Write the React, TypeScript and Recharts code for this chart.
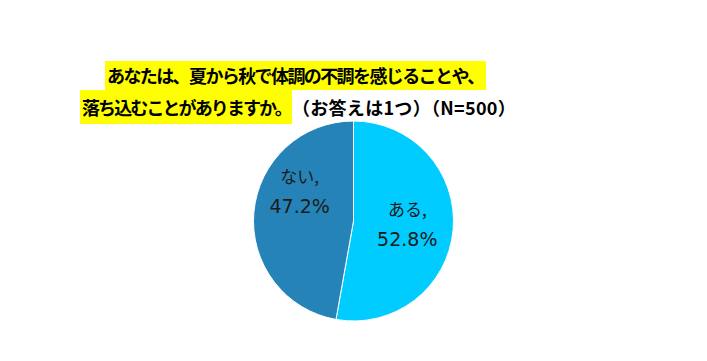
import { PieChart, Pie, Cell } from 'recharts';

const categories = ['ある', 'ない'];
const shares = [52.8, 47.2];
const sliceColors = ['#00CCFF', '#2683B8'];

const titleLine1 = 'あなたは、夏から秋で体調の不調を感じることや、';
const titleLine2 = '落ち込むことがありますか。';
const titleNote = '（お答えは1つ）（N=500）';

const chartData = categories.map((name, i) => ({ name, value: shares[i] }));

const RADIAN = Math.PI / 180;

const renderLabel = (props: any) => {
  const { cx, cy, midAngle, outerRadius, index, payload } = props;
  const r = outerRadius * 0.54;
  const x = cx + r * Math.cos(-midAngle * RADIAN);
  let y = cy + r * Math.sin(-midAngle * RADIAN);
  // Excel nudges the left label upward
  if (index === 1) y -= 23;
  const name = payload?.name ?? categories[index];
  const val = payload?.value ?? shares[index];
  return (
    <text x={x} y={y} textAnchor="middle" fill="#1a1a1a">
      <tspan x={x} dy={-10} fontSize={17} fontFamily="'Noto Sans CJK JP', sans-serif">
        {name},
      </tspan>
      <tspan x={x} dy={30} fontSize={19} fontFamily="'DejaVu Sans', sans-serif">
        {val.toFixed(1)}%
      </tspan>
    </text>
  );
};

export default function App() {
  const titleFont: React.CSSProperties = {
    fontFamily: "'Noto Sans CJK JP', sans-serif",
    fontWeight: 700,
    fontSize: 18,
    color: '#000',
    whiteSpace: 'nowrap',
  };
  return (
    <div style={{ position: 'absolute', left: 0, top: 0, width: 707, height: 361, background: '#fff' }}>
      <PieChart width={707} height={361} margin={{ top: 0, right: 0, bottom: 0, left: 0 }}>
        <Pie
          data={chartData}
          dataKey="value"
          cx={353.5}
          cy={221}
          outerRadius={100}
          startAngle={90}
          endAngle={-270}
          stroke="#ffffff"
          strokeWidth={1}
          labelLine={false}
          label={renderLabel}
          isAnimationActive={false}
        >
          {chartData.map((entry, index) => (
            <Cell key={`cell-${index}`} fill={sliceColors[index]} />
          ))}
        </Pie>
      </PieChart>
      <div style={{ ...titleFont, position: 'absolute', left: 105, top: 61 }}>
        <span
          style={{
            display: 'inline-block',
            background: '#FFFF00',
            height: 29,
            lineHeight: '29px',
            padding: '0 2px',
            letterSpacing: -1.6,
          }}
        >
          {titleLine1}
        </span>
      </div>
      <div style={{ ...titleFont, position: 'absolute', left: 80, top: 90, display: 'flex' }}>
        <span
          style={{
            display: 'inline-block',
            background: '#FFFF00',
            height: 34,
            lineHeight: '34px',
            padding: '0 1px 0 2px',
            letterSpacing: -1.9,
          }}
        >
          {titleLine2}
        </span>
        <span style={{ display: 'inline-block', height: 34, lineHeight: '34px', letterSpacing: 0.3 }}>
          {titleNote}
        </span>
      </div>
    </div>
  );
}
